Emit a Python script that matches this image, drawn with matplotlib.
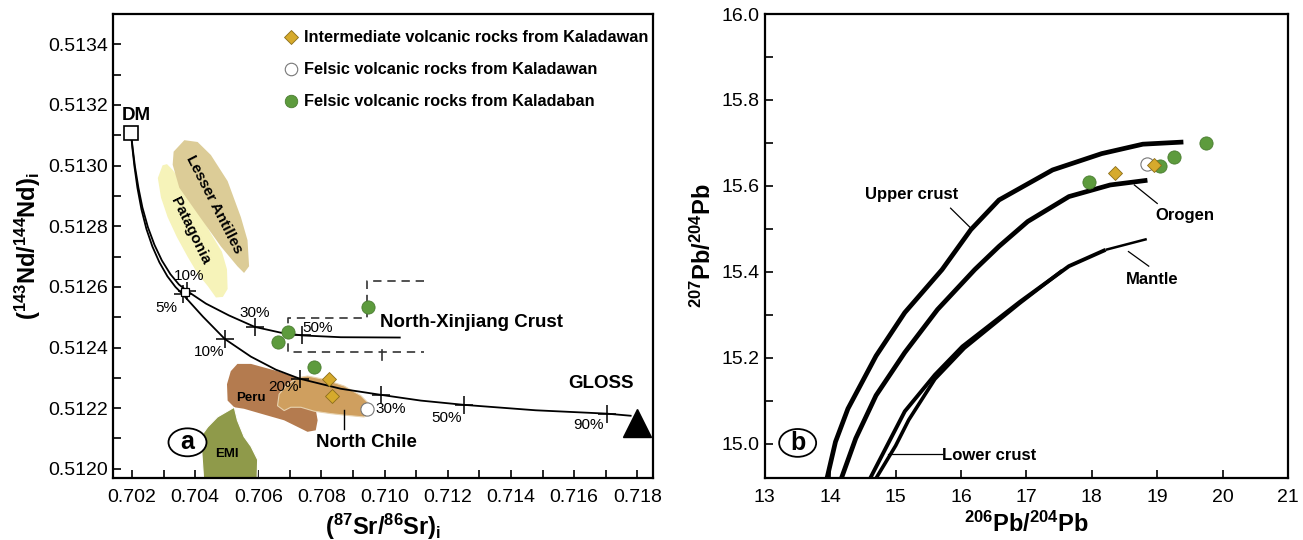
import matplotlib
matplotlib.use('Agg')
import matplotlib.pyplot as plt
from matplotlib.lines import Line2D
from matplotlib.patches import Ellipse
from matplotlib.ticker import MultipleLocator, FormatStrFormatter

plt.rcParams['font.family'] = ['Liberation Sans Narrow', 'Liberation Sans', 'DejaVu Sans']
plt.rcParams['mathtext.fontset'] = 'custom'
plt.rcParams['mathtext.rm'] = 'Liberation Sans'
plt.rcParams['mathtext.bf'] = 'Liberation Sans:bold'

# ---- panel a data : (87Sr/86Sr)i vs (143Nd/144Nd)i ----
kdb_sr = [0.70946, 0.70695, 0.70661, 0.70777]          # felsic, Kaladaban
kdb_nd = [0.512535, 0.51245, 0.512419, 0.512337]
kdw_int_sr = [0.70824, 0.70833]                         # intermediate, Kaladawan
kdw_int_nd = [0.512295, 0.512241]
kdw_fel_sr = [0.70944]                                  # felsic, Kaladawan
kdw_fel_nd = [0.512198]

dm = (0.70197, 0.513109)
gloss = (0.71798, 0.512152)
small_sq = (0.70368, 0.512584)

# DM - GLOSS mixing curve
gloss_curve_sr = [0.701968, 0.702016, 0.702079, 0.702174, 0.702301, 0.702459, 0.702649,
                  0.70287, 0.703123, 0.703377, 0.703604, 0.704247, 0.704943, 0.705766,
                  0.706557, 0.707316, 0.708614, 0.70988, 0.711146, 0.712506, 0.714785,
                  0.717032, 0.71779]
gloss_curve_nd = [0.513109, 0.513057, 0.512998, 0.512927, 0.512856, 0.512791, 0.512733,
                  0.512681, 0.512635, 0.5126, 0.512576, 0.512502, 0.512428, 0.51237,
                  0.512327, 0.512297, 0.512264, 0.512244, 0.512225, 0.512211, 0.512193,
                  0.512182, 0.512175]
gloss_tick_sr = [0.703604, 0.704943, 0.707316, 0.70988, 0.712506, 0.717032]
gloss_tick_nd = [0.512576, 0.512428, 0.512297, 0.512244, 0.512211, 0.512182]

# DM - North-Xinjiang crust mixing curve
nx_curve_sr = [0.701968, 0.702025, 0.702095, 0.702206, 0.702332, 0.702506, 0.702712,
               0.702949, 0.703218, 0.703487, 0.70374, 0.704342, 0.70507, 0.705892,
               0.706715, 0.70738, 0.708614, 0.710481]
nx_curve_nd = [0.513109, 0.513057, 0.512998, 0.512927, 0.512862, 0.512797, 0.512739,
               0.512687, 0.512642, 0.512608, 0.512587, 0.512545, 0.512506, 0.512468,
               0.512449, 0.51244, 0.512434, 0.512433]
nx_tick_sr = [0.70374, 0.705892, 0.70738]
nx_tick_nd = [0.512587, 0.512468, 0.51244]

# North-Xinjiang crust field (dashed)
nx_box_sr = [0.71124, 0.70944, 0.70944, 0.70694, 0.70694, 0.71124]
nx_box_nd = [0.51262, 0.51262, 0.512496, 0.512496, 0.512386, 0.512386]

patagonia_sr = [0.70297, 0.70282, 0.70292, 0.70313, 0.70342, 0.70376, 0.70409, 0.7044,
                0.70466, 0.70488, 0.70503, 0.70501, 0.70485, 0.7045, 0.70418, 0.70387,
                0.70355, 0.70329, 0.70311]
patagonia_nd = [0.513001, 0.512959, 0.512895, 0.51283, 0.512765, 0.5127, 0.512642, 0.512603,
                0.512565, 0.512567, 0.512593, 0.512658, 0.512716, 0.512776, 0.512836, 0.512895,
                0.51295, 0.512986, 0.513005]
antilles_sr = [0.70366, 0.70332, 0.70329, 0.7035, 0.70408, 0.70482, 0.70534, 0.70555,
               0.70571, 0.70566, 0.70545, 0.70503, 0.7045, 0.70408]
antilles_nd = [0.513084, 0.513046, 0.513003, 0.512927, 0.512841, 0.512733, 0.512668, 0.512646,
               0.512668, 0.512754, 0.51283, 0.512949, 0.513035, 0.513078]
peru_sr = [0.70534, 0.70577, 0.70661, 0.70724, 0.70756, 0.70777, 0.70788, 0.70782, 0.70756,
           0.70682, 0.70608, 0.70555, 0.70524, 0.70503, 0.70501, 0.70513]
peru_nd = [0.512346, 0.512346, 0.512322, 0.5123, 0.512289, 0.512225, 0.51216, 0.512127,
           0.512122, 0.51216, 0.512182, 0.512198, 0.512203, 0.512225, 0.512279, 0.512322]
chile_sr = [0.70661, 0.70666, 0.70693, 0.70724, 0.70756, 0.70809, 0.70872, 0.70925, 0.70951,
            0.70956, 0.70935, 0.70883, 0.7083, 0.70777, 0.70735, 0.70703, 0.70682]
chile_nd = [0.512208, 0.512246, 0.512279, 0.5123, 0.512306, 0.512295, 0.512273, 0.512241,
            0.512214, 0.512182, 0.512171, 0.512176, 0.512182, 0.51219, 0.512203, 0.512203, 0.512192]
emi_sr = [0.70418, 0.7044, 0.70471, 0.70524, 0.70534, 0.70555, 0.70577, 0.70598, 0.70596, 0.70428]
emi_nd = [0.512106, 0.512138, 0.512171, 0.512203, 0.51216, 0.512106, 0.512074, 0.51203,
          0.51195, 0.51195]

# ---- panel b data : 206Pb/204Pb vs 207Pb/204Pb ----
b_kdb_x = [17.96, 19.04, 19.25, 19.75]
b_kdb_y = [15.609, 15.647, 15.667, 15.70]
b_int_x = [18.36, 18.95]
b_int_y = [15.629, 15.648]
b_fel_x = [18.84]
b_fel_y = [15.652]

upper_x = [13.95, 14.08, 14.27, 14.70, 15.14, 15.71, 16.15, 16.58, 17.40, 18.15, 18.78, 19.40]
upper_y = [14.919, 15.004, 15.081, 15.204, 15.305, 15.405, 15.498, 15.567, 15.637, 15.675, 15.697, 15.702]
orogen_x = [14.17, 14.39, 14.70, 15.14, 15.64, 16.21, 16.58, 17.02, 17.65, 18.28, 18.85]
orogen_y = [14.919, 15.012, 15.112, 15.212, 15.312, 15.405, 15.459, 15.517, 15.575, 15.602, 15.613]
mantle_x = [14.61, 15.14, 15.60, 16.02, 16.90, 17.65, 18.21, 18.84]
mantle_y = [14.919, 15.075, 15.160, 15.226, 15.330, 15.413, 15.451, 15.476]
lower_x = [14.70, 15.00, 15.20, 15.60, 16.05, 16.90, 17.55]
lower_y = [14.919, 14.995, 15.055, 15.150, 15.222, 15.327, 15.403]

GREEN = '#5d9b3d'
GOLD = '#d6aa2c'

fig = plt.figure(figsize=(13.03, 5.40), dpi=100)
ax = fig.add_axes([0.0867, 0.115, 0.4145, 0.859])
bx = fig.add_axes([0.587, 0.115, 0.4015, 0.859])

# ---------------- panel a ----------------
ax.fill(patagonia_sr, patagonia_nd, color='#f6f3b9', lw=0, zorder=1)
ax.fill(antilles_sr, antilles_nd, color='#dccc97', lw=0, zorder=1)
ax.fill(peru_sr, peru_nd, color='#b47b4f', lw=0, zorder=1)
ax.fill(chile_sr, chile_nd, color='#cf9f5f', ec='#e8d3b0', lw=0.8, zorder=2)
ax.fill(emi_sr, emi_nd, color='#8f9a4a', ec='white', lw=0.8, zorder=2)

ax.plot(gloss_curve_sr, gloss_curve_nd, color='black', lw=1.3, zorder=3)
ax.plot(nx_curve_sr, nx_curve_nd, color='black', lw=1.3, zorder=3)
ax.plot(gloss_tick_sr, gloss_tick_nd, ls='none', marker='+', ms=13, mew=1.1, color='black', zorder=3)
ax.plot(nx_tick_sr, nx_tick_nd, ls='none', marker='+', ms=13, mew=1.1, color='black', zorder=3)
ax.plot(*small_sq, marker='s', ms=5.5, mfc='white', mec='black', mew=0.9, zorder=3)
ax.plot(nx_box_sr, nx_box_nd, color='#333333', lw=1.2, ls=(0, (5, 3.5)), zorder=3)
ax.plot([0.70993, 0.70993], [0.512392, 0.51236], color='#333333', lw=1.2, zorder=3)
ax.plot([0.70873, 0.70873], [0.512194, 0.51213], color='black', lw=1.0, zorder=3)

ax.plot(*dm, marker='s', ms=10, mfc='white', mec='black', mew=1.2, zorder=4)
ax.plot(*gloss, marker='^', ms=20, color='black', zorder=4)

ax.plot(kdb_sr, kdb_nd, ls='none', marker='o', ms=9.5, mfc=GREEN, mec='#4a7d31', mew=0.6, zorder=5)
ax.plot(kdw_int_sr, kdw_int_nd, ls='none', marker='D', ms=7, mfc=GOLD, mec='#8a6d1a', mew=0.6, zorder=5)
ax.plot(kdw_fel_sr, kdw_fel_nd, ls='none', marker='o', ms=9.5, mfc='white', mec='#777777', mew=0.8, zorder=5)

pct = dict(fontsize=11, ha='center', va='center', zorder=6)
ax.text(0.7038, 0.512635, '10%', **pct)
ax.text(0.70308, 0.512532, '5%', **pct)
ax.text(0.70589, 0.512515, '30%', **pct)
ax.text(0.70789, 0.512464, '50%', **pct)
ax.text(0.70444, 0.512386, '10%', **pct)
ax.text(0.70681, 0.512269, '20%', **pct)
ax.text(0.7102, 0.512198, '30%', **pct)
ax.text(0.71196, 0.512168, '50%', **pct)
ax.text(0.71646, 0.512143, '90%', **pct)

big = dict(fontsize=13.5, fontweight='bold', ha='center', va='center', zorder=6)
ax.text(0.70215, 0.513165, 'DM', **big)
ax.text(0.71684, 0.51228, 'GLOSS', **big)
ax.text(0.71276, 0.512483, 'North-Xinjiang Crust', **big)
ax.text(0.70942, 0.512088, 'North Chile', **big)
ax.text(0.70577, 0.512233, 'Peru', fontsize=9.5, fontweight='bold', ha='center', va='center')
ax.text(0.70501, 0.51205, 'EMI', fontsize=9.5, fontweight='bold', ha='center', va='center')
ax.text(0.7046, 0.512873, 'Lesser Antilles', fontsize=11, fontweight='bold', rotation=-63,
        ha='center', va='center')
ax.text(0.70384, 0.512784, 'Patagonia', fontsize=11, fontweight='bold', rotation=-64,
        ha='center', va='center')
ax.add_patch(Ellipse((0.138, 0.0767), 0.0704, 0.0603, transform=ax.transAxes,
                     fc='white', ec='black', lw=1.3, zorder=6))
ax.text(0.138, 0.0767, 'a', transform=ax.transAxes, fontsize=18, fontweight='bold',
        ha='center', va='center', zorder=7)

handles = [
    Line2D([], [], ls='none', marker='D', ms=7, mfc=GOLD, mec='#8a6d1a', mew=0.6),
    Line2D([], [], ls='none', marker='o', ms=9, mfc='white', mec='#777777', mew=0.8),
    Line2D([], [], ls='none', marker='o', ms=9, mfc=GREEN, mec='#4a7d31', mew=0.6),
]
labels = ['Intermediate volcanic rocks from Kaladawan',
          'Felsic volcanic rocks from Kaladawan',
          'Felsic volcanic rocks from Kaladaban']
ax.legend(handles, labels, loc='upper left', bbox_to_anchor=(0.306, 0.979), frameon=False,
          handlelength=0.8, handletextpad=0.4, labelspacing=1.05, borderaxespad=0,
          prop=dict(size=11.7, weight='bold'))

ax.set_xlim(0.7014, 0.7185)
ax.set_ylim(0.51197, 0.51350)
ax.xaxis.set_major_locator(MultipleLocator(0.002))
ax.xaxis.set_minor_locator(MultipleLocator(0.001))
ax.yaxis.set_major_locator(MultipleLocator(0.0002))
ax.yaxis.set_minor_locator(MultipleLocator(0.0001))
ax.xaxis.set_major_formatter(FormatStrFormatter('%.3f'))
ax.yaxis.set_major_formatter(FormatStrFormatter('%.4f'))
ax.set_xlabel(r'($\mathbf{^{87}}$Sr/$\mathbf{^{86}}$Sr)$\mathbf{_i}$', fontsize=17, fontweight='bold')
ax.set_ylabel(r'($\mathbf{^{143}}$Nd/$\mathbf{^{144}}$Nd)$\mathbf{_i}$', fontsize=17, fontweight='bold')

# ---------------- panel b ----------------
bx.plot(upper_x, upper_y, color='black', lw=3.4, solid_capstyle='butt', solid_joinstyle='round')
bx.plot(orogen_x, orogen_y, color='black', lw=3.4, solid_capstyle='butt', solid_joinstyle='round')
bx.plot(mantle_x[:-1], mantle_y[:-1], color='black', lw=2.8, solid_capstyle='butt')
bx.plot(mantle_x[-2:], mantle_y[-2:], color='black', lw=1.8, solid_capstyle='butt')
bx.plot(lower_x, lower_y, color='black', lw=2.6, solid_capstyle='butt')

bx.plot(b_kdb_x, b_kdb_y, ls='none', marker='o', ms=9.5, mfc=GREEN, mec='#4a7d31', mew=0.6, zorder=5)
bx.plot(b_fel_x, b_fel_y, ls='none', marker='o', ms=9.5, mfc='white', mec='#777777', mew=0.8, zorder=4)
bx.plot(b_int_x, b_int_y, ls='none', marker='D', ms=7, mfc=GOLD, mec='#8a6d1a', mew=0.6, zorder=5)

lab = dict(fontsize=12, fontweight='bold', ha='center', va='center')
bx.text(15.24, 15.579, 'Upper crust', **lab)
bx.plot([15.84, 16.16], [15.548, 15.50], color='black', lw=0.9)
bx.text(19.42, 15.53, 'Orogen', **lab)
bx.plot([18.65, 19.0], [15.602, 15.559], color='black', lw=0.9)
bx.text(18.93, 15.382, 'Mantle', **lab)
bx.plot([18.56, 18.87], [15.447, 15.413], color='black', lw=0.9)
bx.text(16.43, 14.973, 'Lower crust', **lab)
bx.plot([14.89, 15.71], [14.975, 14.975], color='black', lw=0.9)
bx.add_patch(Ellipse((0.0627, 0.0754), 0.0707, 0.060, transform=bx.transAxes,
                     fc='white', ec='black', lw=1.3, zorder=6))
bx.text(0.0627, 0.0754, 'b', transform=bx.transAxes, fontsize=18, fontweight='bold',
        ha='center', va='center', zorder=7)

bx.set_xlim(13, 21)
bx.set_ylim(14.92, 16.0)
bx.xaxis.set_major_locator(MultipleLocator(1))
bx.yaxis.set_major_locator(MultipleLocator(0.2))
bx.yaxis.set_minor_locator(MultipleLocator(0.1))
bx.yaxis.set_major_formatter(FormatStrFormatter('%.1f'))
bx.set_xlabel(r'$\mathbf{^{206}}$Pb/$\mathbf{^{204}}$Pb', fontsize=17, fontweight='bold')
bx.set_ylabel(r'$\mathbf{^{207}}$Pb/$\mathbf{^{204}}$Pb', fontsize=17, fontweight='bold')

for a in (ax, bx):
    for s in a.spines.values():
        s.set_linewidth(1.6)
    a.tick_params(which='both', direction='in', length=6, width=1.2, labelsize=14,
                  top=False, right=False)
    a.tick_params(axis='x', pad=8)

fig.savefig('out.png', dpi=100)
